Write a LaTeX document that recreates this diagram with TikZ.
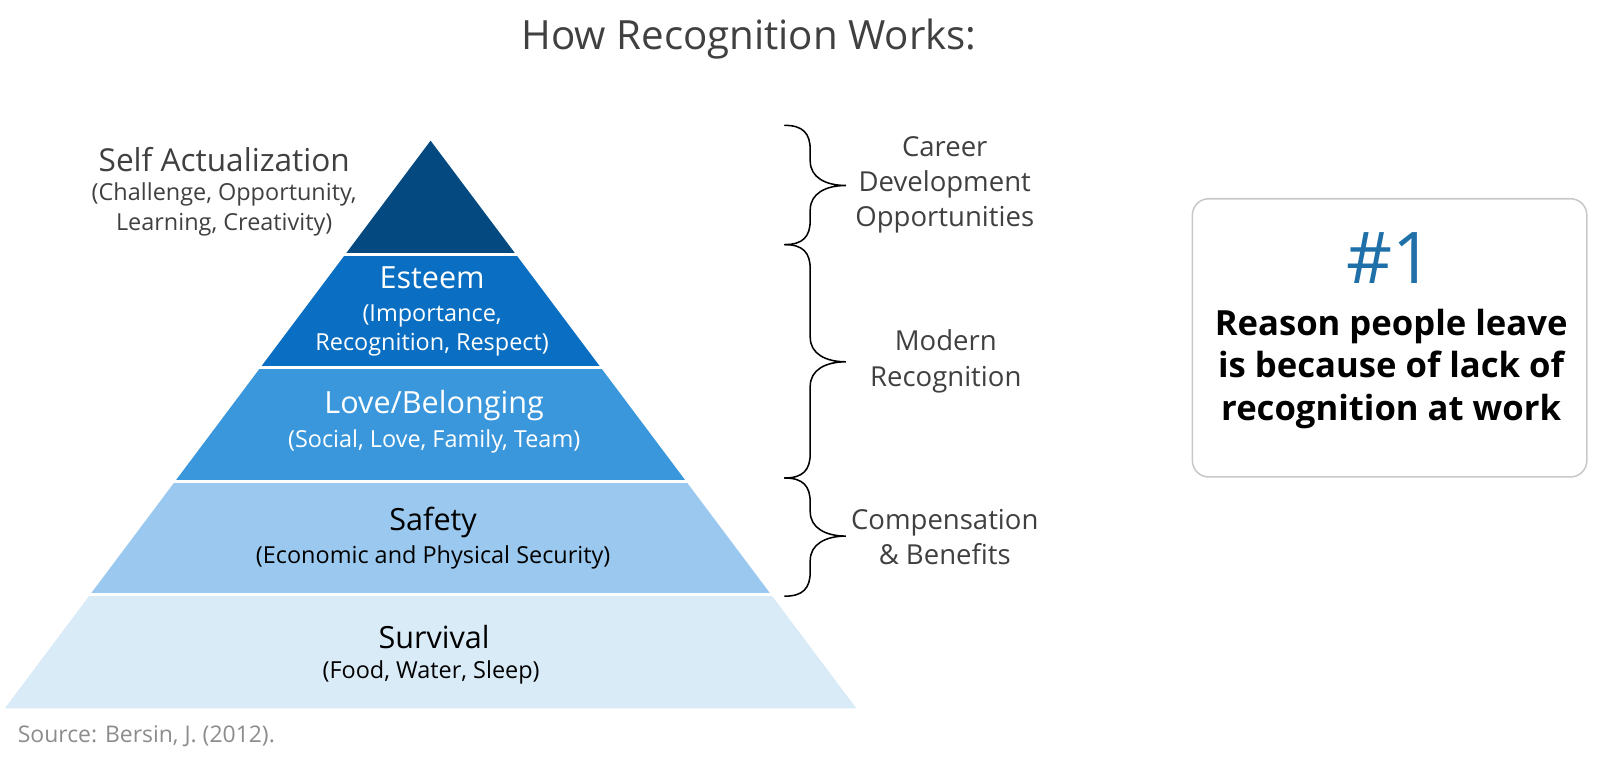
\documentclass[tikz,border=0pt]{standalone}
\usepackage{fontspec}
\setmainfont{Open Sans}
\usetikzlibrary{positioning}

\definecolor{lvlA}{RGB}{4,74,128}
\definecolor{lvlB}{RGB}{10,111,194}
\definecolor{lvlC}{RGB}{58,151,220}
\definecolor{lvlD}{RGB}{154,200,238}
\definecolor{lvlE}{RGB}{218,235,248}
\definecolor{txtgray}{RGB}{64,64,64}
\definecolor{srcgray}{RGB}{140,140,140}
\definecolor{boxgray}{RGB}{200,200,200}
\definecolor{numblue}{RGB}{31,112,168}

\tikzset{
  head/.style={font=\fontsize{30}{36}\selectfont},
  sub/.style={font=\fontsize{23}{29}\selectfont, align=center},
  side/.style={font=\fontsize{27}{34.5}\selectfont, align=center, text=txtgray},
  gap/.style={white, line width=3pt}
}

\begin{document}
\begin{tikzpicture}[x=1pt,y=-1pt]
\useasboundingbox (0,0) rectangle (1567,750.6);

% pyramid layers
\fill[lvlA] (422.5,138)--(506.05,249.4)--(338.95,249.4)--cycle;
\fill[lvlB] (338.95,249.4)--(506.05,249.4)--(589.6,360.8)--(255.4,360.8)--cycle;
\fill[lvlC] (255.4,360.8)--(589.6,360.8)--(673.15,472.2)--(171.85,472.2)--cycle;
\fill[lvlD] (171.85,472.2)--(673.15,472.2)--(756.7,583.6)--(88.3,583.6)--cycle;
\fill[lvlE] (88.3,583.6)--(756.7,583.6)--(840.25,695)--(4.75,695)--cycle;
\foreach \y/\xa/\xb in {249.4/330/515,360.8/246/598,472.2/163/682,583.6/80/765}
{
    \draw[gap] (\xa,\y)--(\xb,\y);
}

% title
\node (title) at (735,38) [font=\fontsize{39.5}{46}\selectfont, text=txtgray] {How Recognition Works:};

% level labels
\node (selfhd) at (220,157) [head, text=txtgray, font=\fontsize{31}{36}\selectfont] {Self Actualization};
\node (selfsub) at (220,205.5) [sub, text=txtgray] {(Challenge, Opportunity,\\Learning, Creativity)};
\node (esthd) at (424,273) [head, text=white] {Esteem};
\node (estsub) at (424,324) [sub, text=white, font=\fontsize{23}{28}\selectfont] {(Importance,\\Recognition, Respect)};
\node (lovehd) at (426,398) [head, text=white] {Love/Belonging};
\node (lovesub) at (426,433) [sub, text=white] {(Social, Love, Family, Team)};
\node (safehd) at (425,513) [head] {Safety};
\node (safesub) at (425,547) [sub] {(Economic and Physical Security)};
\node (survhd) at (426,625) [head] {Survival};
\node (survsub) at (423,660) [sub] {(Food, Water, Sleep)};
\node (source) at (14,722) [right, font=\fontsize{22.5}{26}\selectfont, text=srcgray] {Source: Bersin, J. (2012).};

% braces
\foreach \t/\m/\b in {123/182/240, 240/355/469, 469/526/585}
{
    \draw[line width=1.5pt, line cap=round] (770,\t) .. controls (788,\t) and (795,\t+8) .. (795,\t+24)
        -- (795,\m-24) .. controls (795,\m-8) and (810,\m) .. (830,\m)
        .. controls (810,\m) and (795,\m+8) .. (795,\m+24)
        -- (795,\b-24) .. controls (795,\b-8) and (788,\b) .. (770,\b);
}
\node (career) at (927,181.5) [side] {Career\\Development\\Opportunities};
\node (modern) at (928,354.5) [side] {Modern\\Recognition};
\node (comp) at (927,527) [side] {Compensation\\\& Benefits};

% reason box
\draw[boxgray, line width=1.5pt, rounded corners=16pt] (1170,195) rectangle (1557,468);
\node (num) at (1364,253) [font=\fontsize{70}{80}\selectfont, text=numblue] {\#1};
\node (reason) at (1365,362) [font=\bfseries\fontsize{34}{42}\selectfont, align=center] {Reason people leave\\is because of lack of\\recognition at work};
\end{tikzpicture}
\end{document}
